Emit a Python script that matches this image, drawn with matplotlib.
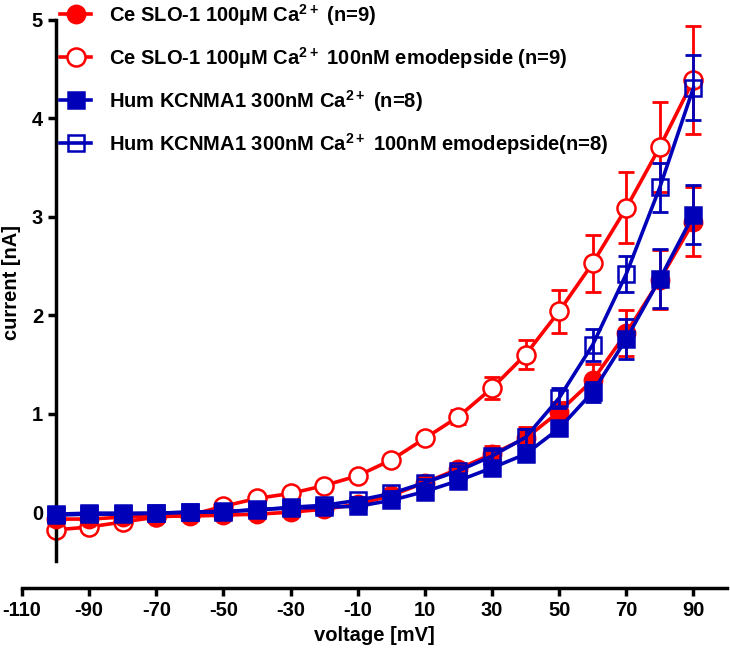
import matplotlib
matplotlib.use('Agg')
import matplotlib.pyplot as plt
import numpy as np

plt.rcParams['font.family'] = ['Liberation Sans', 'DejaVu Sans']
plt.rcParams['font.weight'] = 'bold'
plt.rcParams['axes.unicode_minus'] = False
plt.rcParams['mathtext.fontset'] = 'custom'
plt.rcParams['mathtext.rm'] = 'Liberation Sans:bold'
plt.rcParams['mathtext.bf'] = 'Liberation Sans:bold'

# данные: напряжение и ток
voltage = np.arange(-100, 91, 10)

ce_ctrl = [-0.07, -0.07, -0.05, -0.04, -0.04, -0.03, -0.02, 0.0, 0.03, 0.08,
           0.17, 0.30, 0.44, 0.59, 0.75, 1.02, 1.34, 1.82, 2.36, 2.95]
ce_ctrl_err = [0.02, 0.02, 0.02, 0.02, 0.02, 0.02, 0.02, 0.02, 0.03, 0.03,
               0.04, 0.05, 0.06, 0.08, 0.12, 0.10, 0.17, 0.23, 0.30, 0.35]

ce_emo = [-0.18, -0.15, -0.10, -0.05, -0.03, 0.06, 0.14, 0.19, 0.27, 0.37,
          0.53, 0.75, 0.97, 1.26, 1.60, 2.04, 2.53, 3.09, 3.71, 4.39]
ce_emo_err = [0.03, 0.03, 0.03, 0.03, 0.03, 0.03, 0.03, 0.03, 0.04, 0.04,
              0.04, 0.05, 0.07, 0.11, 0.15, 0.22, 0.29, 0.36, 0.46, 0.55]

hum_ctrl = [-0.02, -0.01, -0.01, -0.01, 0.0, 0.0, 0.03, 0.04, 0.05, 0.06,
            0.12, 0.21, 0.32, 0.45, 0.59, 0.85, 1.22, 1.76, 2.37, 3.02]
hum_ctrl_err = [0.01, 0.01, 0.01, 0.01, 0.01, 0.01, 0.01, 0.01, 0.02, 0.02,
                0.02, 0.03, 0.04, 0.05, 0.06, 0.07, 0.10, 0.20, 0.30, 0.30]

hum_emo = [-0.03, -0.02, -0.02, -0.01, 0.0, 0.01, 0.02, 0.05, 0.07, 0.12,
           0.19, 0.30, 0.42, 0.57, 0.76, 1.16, 1.70, 2.42, 3.30, 4.31]
hum_emo_err = [0.01, 0.01, 0.01, 0.01, 0.01, 0.01, 0.02, 0.02, 0.02, 0.03,
               0.03, 0.04, 0.05, 0.06, 0.08, 0.10, 0.16, 0.18, 0.25, 0.33]

labels = ['Ce SLO-1 100µM Ca$^{2+}$ (n=9)',
          'Ce SLO-1 100µM Ca$^{2+}$ 100nM emodepside (n=9)',
          'Hum KCNMA1 300nM Ca$^{2+}$ (n=8)',
          'Hum KCNMA1 300nM Ca$^{2+}$ 100nM emodepside(n=8)']

red = '#FF0000'
blue = '#0000B8'
fs = 14.5

fig = plt.figure(figsize=(7.3, 6.52), dpi=100)
ax = fig.add_axes([22 / 730, 1 - 588 / 652, 705 / 730, 576 / 652])

series = [
    (ce_ctrl, ce_ctrl_err, red, 'o', red, 12.5, 3),
    (ce_emo, ce_emo_err, red, 'o', 'white', 13, 2),
    (hum_emo, hum_emo_err, blue, 's', 'none', 12, 4),
    (hum_ctrl, hum_ctrl_err, blue, 's', blue, 12, 5),
]
handles = {}
for (y, err, col, mk, fc, ms, z), lb in zip(series, [labels[0], labels[1], labels[3], labels[2]]):
    ax.errorbar(voltage, y, yerr=err, fmt='none', ecolor=col, elinewidth=2,
                capsize=6, capthick=2, zorder=z)
    h, = ax.plot(voltage, y, color=col, lw=2.6, marker=mk, ms=ms,
                 mfc=fc, mec=col, mew=1.8, label=lb, zorder=z)
    handles[lb] = h

ax.set_xlim(-110, 100)
ax.set_ylim(-0.77, 5.08)
ax.spines['top'].set_visible(False)
ax.spines['right'].set_visible(False)
ax.spines['left'].set_position(('data', -100))
ax.spines['left'].set_bounds(-0.5, 5)
ax.spines['left'].set_linewidth(2.5)
ax.spines['bottom'].set_linewidth(2.5)

ax.set_xticks(np.arange(-110, 91, 20))
ax.set_yticks([0, 1, 2, 3, 4, 5])
ax.tick_params(axis='both', width=2.5, length=6, labelsize=fs, pad=3)
for t in ax.get_xticklabels() + ax.get_yticklabels():
    t.set_fontweight('bold')

ax.set_xlabel('voltage [mV]', fontsize=fs, fontweight='bold', labelpad=5)
ax.set_ylabel('current [nA]', fontsize=fs, fontweight='bold')
ax.yaxis.set_label_coords(-0.002, 0.53)

ax.legend([handles[l] for l in labels], labels, loc='upper left',
          bbox_to_anchor=(0.054, 1.018), frameon=False, fontsize=fs,
          handlelength=1.55, handletextpad=0.9, labelspacing=0.85,
          borderaxespad=0, borderpad=0)

plt.savefig('out.png', dpi=100)
